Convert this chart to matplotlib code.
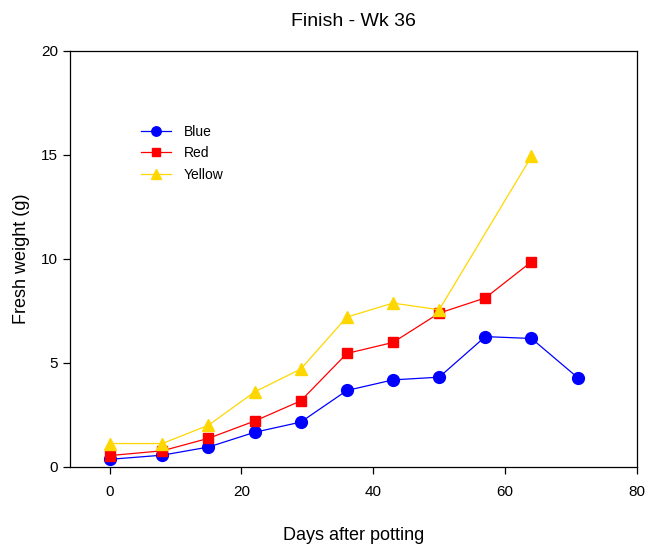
import matplotlib
matplotlib.use("Agg")
import matplotlib.pyplot as plt

plt.rcParams['font.family'] = ['Liberation Sans', 'DejaVu Sans']

# data
days_blue = [0, 8, 15, 22, 29, 36, 43, 50, 57, 64, 71]
blue = [0.36, 0.56, 0.95, 1.66, 2.15, 3.67, 4.18, 4.31, 6.26, 6.17, 4.29]

days_red = [0, 8, 15, 22, 29, 36, 43, 50, 57, 64]
red = [0.54, 0.77, 1.37, 2.2, 3.17, 5.45, 5.98, 7.39, 8.12, 9.86]

days_yellow = [0, 8, 15, 22, 29, 36, 43, 50, 64]
yellow = [1.12, 1.12, 2.0, 3.6, 4.7, 7.2, 7.87, 7.55, 14.92]

fig = plt.figure(figsize=(6.48, 5.46), dpi=100)
ax = fig.add_axes([0.108, 0.145, 0.875, 0.762])

ax.plot(days_blue, blue, color='#0000FF', marker='o', markersize=8.5, lw=0.9, label='Blue')
ax.plot(days_red, red, color='#FF0000', marker='s', markersize=7.5, lw=0.9, label='Red')
ax.plot(days_yellow, yellow, color='#FFD700', marker='^', markersize=8.5, lw=0.9, label='Yellow')

ax.set_xlim(-6, 80)
ax.set_ylim(0, 20)
ax.set_xticks([0, 20, 40, 60, 80])
ax.set_yticks([0, 5, 10, 15, 20])
ax.tick_params(direction='out', length=5, width=0.9, labelsize=11)
ax.tick_params(axis='x', pad=8)
for s in ax.spines.values():
    s.set_linewidth(0.9)

ax.set_title('Finish - Wk 36', fontsize=14, pad=18)
ax.set_xlabel('Days after potting', fontsize=13, labelpad=20)
ax.set_ylabel('Fresh weight (g)', fontsize=13, labelpad=8)

ax.legend(loc='upper left', bbox_to_anchor=(0.115, 0.836), frameon=False,
          fontsize=10, handlelength=2.2, handletextpad=0.9, markerscale=0.8,
          labelspacing=0.55, borderaxespad=0)

fig.savefig('out.png', dpi=100)
